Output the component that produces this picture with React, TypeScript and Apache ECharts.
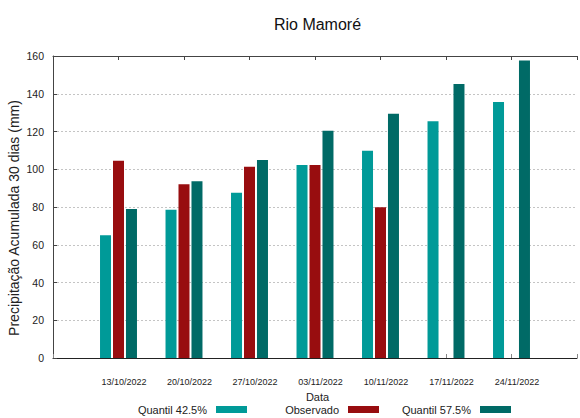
import React, { useEffect, useRef } from "react";
import * as echarts from "echarts";

const dates = ["13/10/2022", "20/10/2022", "27/10/2022", "03/11/2022", "10/11/2022", "17/11/2022", "24/11/2022"];
const quantil425 = [65, 78.5, 87.5, 102.2, 109.8, 125.4, 135.6];
const observado = [104.5, 92.1, 101.3, 102.2, 79.9];
const quantil575 = [79, 93.7, 104.9, 120.4, 129.4, 145.2, 157.6];
const yTicks = [0, 20, 40, 60, 80, 100, 120, 140, 160];

const FONT = "'Liberation Sans', Arial, sans-serif";

const C1 = "#009a98";
const C2 = "#980d0f";
const C3 = "#006a66";

function pts(arr: number[]) {
  return arr.map((v, i) => [i, v]);
}

export default function App() {
  const ref = useRef<HTMLDivElement>(null);
  useEffect(() => {
    if (!ref.current) return;
    const chart = echarts.init(ref.current, undefined, { renderer: "svg" });
    const axisCommon = {
      type: "value" as const,
      min: -1,
      max: 7,
      interval: 1,
    };
    const legendBase = {
      orient: "horizontal" as const,
      align: "right" as const,
      icon: "rect",
      itemWidth: 31,
      itemHeight: 7,
      padding: 0,
      top: 404,
      textStyle: { fontSize: 11, fontFamily: FONT, color: "#222", padding: [0, 4, 0, 0] },
      selectedMode: false,
    };
    chart.setOption({
      animation: false,
      backgroundColor: "#fff",
      grid: { left: 53, top: 56, width: 532, height: 302 },
      xAxis: [
        {
          ...axisCommon,
          position: "bottom",
          axisLine: { show: true, onZero: false, lineStyle: { color: "#222", width: 1 } },
          axisTick: { show: true, inside: true, length: 4, lineStyle: { color: "#888" } },
          splitLine: { show: false },
          axisLabel: {
            show: true,
            fontSize: 9,
            fontFamily: FONT,
            color: "#222",
            margin: 19,
            padding: [0, 0, 0, 11],
            formatter: (v: number) => (v >= 0 && v < dates.length ? dates[v] : ""),
          },
        },
        {
          ...axisCommon,
          position: "top",
          axisLine: { show: true, onZero: false, lineStyle: { color: "#444", width: 1 } },
          axisTick: { show: true, inside: true, length: 4, lineStyle: { color: "#444" } },
          splitLine: { show: false },
          axisLabel: { show: false },
        },
      ],
      yAxis: {
        type: "value",
        min: 0,
        max: 160,
        interval: 20,
        axisLine: { show: true, onZero: false, lineStyle: { color: "#444", width: 1 } },
        axisTick: { show: true, inside: true, length: 4, lineStyle: { color: "#444" } },
        splitLine: { show: true, lineStyle: { color: "#c4c4c4", type: [2, 2], width: 1 } },
        axisLabel: {
          fontSize: 10.5,
          fontFamily: FONT,
          color: "#222",
          margin: 9,
          formatter: (v: number) => (yTicks.includes(v) ? String(v) : ""),
        },
      },
      legend: [
        { ...legendBase, right: 333, data: ["Quantil 42.5%"] },
        { ...legendBase, right: 201, data: ["Observado"] },
        { ...legendBase, right: 69, data: ["Quantil 57.5%"] },
      ],
      graphic: [
        {
          type: "text",
          x: 317.5,
          y: 24,
          style: { text: "Rio Mamoré", fontSize: 16, fontFamily: FONT, fill: "#111", align: "center", verticalAlign: "middle" },
        },
        {
          type: "text",
          x: 317.5,
          y: 397,
          style: { text: "Data", fontSize: 11, fontFamily: FONT, fill: "#222", align: "center", verticalAlign: "middle" },
        },
        {
          type: "text",
          x: 14,
          y: 218,
          rotation: Math.PI / 2,
          style: {
            text: "Precipitação Acumulada 30 dias (mm)",
            fontSize: 14,
            fontFamily: FONT,
            fill: "#222",
            align: "center",
            verticalAlign: "middle",
          },
        },
      ],
      series: [
        { name: "Quantil 42.5%", type: "bar", xAxisIndex: 0, data: pts(quantil425), barWidth: 11, barGap: "18%", itemStyle: { color: C1 } },
        { name: "Observado", type: "bar", xAxisIndex: 0, data: pts(observado), barWidth: 11, barGap: "18%", itemStyle: { color: C2 } },
        { name: "Quantil 57.5%", type: "bar", xAxisIndex: 0, data: pts(quantil575), barWidth: 11, barGap: "18%", itemStyle: { color: C3 } },
      ],
    });
    return () => chart.dispose();
  }, []);
  return <div ref={ref} style={{ position: "fixed", left: 0, top: 0, width: 580, height: 418 }} />;
}
